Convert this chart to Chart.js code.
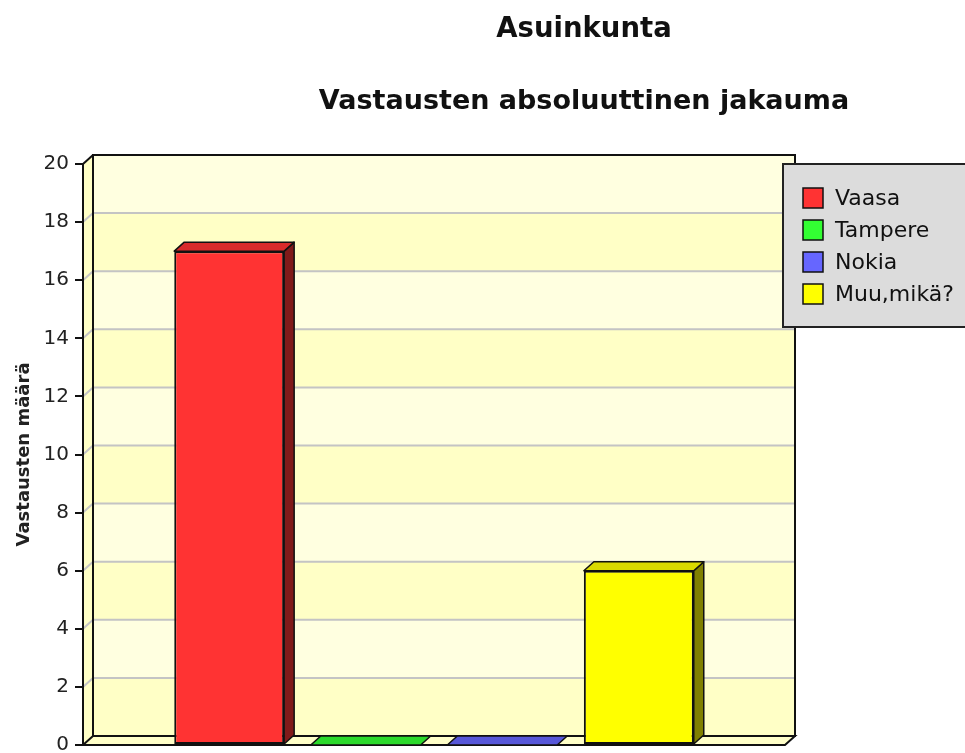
<!DOCTYPE html>
<html>
<head>
<meta charset="utf-8">
<title>Asuinkunta</title>
<script src="https://cdn.jsdelivr.net/npm/chart.js@4/dist/chart.umd.min.js"></script>
<style>
    html, body { margin: 0; padding: 0; background: #fff; overflow: hidden; }
    /* the source picture was cropped on the right and bottom, so the chart is larger than the window */
    #wrap { position: relative; width: 1168px; height: 790px; }
</style>
</head>
<body>
<div id="wrap"><canvas id="chart"></canvas></div>
<script>
// --- data ---
const categories = [''];
const seriesNames = ['Vaasa', 'Tampere', 'Nokia', 'Muu,mikä?'];
const seriesValues = [17, 0, 0, 6];
const seriesColors = ['#FF3333', '#33FF33', '#6666FF', '#FFFF00'];
const yTickValues = [0, 2, 4, 6, 8, 10, 12, 14, 16, 18, 20];

const DEPTH_X = 10;
const DEPTH_Y = 9;

/**
 * Darken a #RRGGBB colour by a factor
 */
function shade(hex, f) {
    const n = parseInt(hex.slice(1), 16);
    const r = Math.round(((n >> 16) & 255) * f);
    const g = Math.round(((n >> 8) & 255) * f);
    const b = Math.round((n & 255) * f);
    return `rgb(${r},${g},${b})`;
}

function poly(ctx, pts) {
    ctx.beginPath();
    ctx.moveTo(pts[0][0], pts[0][1]);
    for (let i = 1; i < pts.length; i++) {
        ctx.lineTo(pts[i][0], pts[i][1]);
    }
    ctx.closePath();
}

/**
 * Back wall, side wall, floor and the grid on the back wall
 */
const wallsPlugin = {
    id: 'walls',
    beforeDraw(chart) {
        const {ctx, chartArea: a, scales: {y}} = chart;
        const dx = DEPTH_X, dy = DEPTH_Y;
        ctx.save();

        // alternating bands on the back wall
        for (let i = 0; i < yTickValues.length - 1; i++) {
            const top = y.getPixelForValue(yTickValues[i + 1]) - dy;
            const bottom = y.getPixelForValue(yTickValues[i]) - dy;
            ctx.fillStyle = i % 2 === 0 ? '#FFFFC6' : '#FFFFE0';
            ctx.fillRect(a.left + dx, top, a.width, bottom - top);
        }

        // left side wall
        poly(ctx, [[a.left, a.top], [a.left + dx, a.top - dy], [a.left + dx, a.bottom - dy], [a.left, a.bottom]]);
        ctx.fillStyle = '#FFFFC6';
        ctx.fill();

        // grid lines
        ctx.strokeStyle = '#C4C4C4';
        ctx.lineWidth = 2;
        yTickValues.forEach(v => {
            if (v === yTickValues[0] || v === yTickValues[yTickValues.length - 1]) {
                return;
            }
            const py = y.getPixelForValue(v);
            ctx.beginPath();
            ctx.moveTo(a.left, py);
            ctx.lineTo(a.left + dx, py - dy);
            ctx.lineTo(a.right + dx, py - dy);
            ctx.stroke();
        });

        // floor
        poly(ctx, [[a.left, a.bottom], [a.left + dx, a.bottom - dy], [a.right + dx, a.bottom - dy], [a.right, a.bottom]]);
        ctx.fillStyle = '#FFFFC8';
        ctx.fill();
        ctx.strokeStyle = '#111';
        ctx.lineWidth = 2;
        ctx.stroke();

        // back wall outline and top corner
        ctx.strokeRect(a.left + dx, a.top - dy, a.width, a.height);
        ctx.beginPath();
        ctx.moveTo(a.left, a.top);
        ctx.lineTo(a.left + dx, a.top - dy);
        ctx.stroke();

        ctx.restore();
    }
};

/**
 * Top and side faces of the bars
 */
const bar3dPlugin = {
    id: 'bar3d',
    afterDatasetsDraw(chart) {
        const {ctx} = chart;
        const dx = DEPTH_X, dy = DEPTH_Y;
        ctx.save();
        ctx.strokeStyle = '#111';
        ctx.lineWidth = 1.5;
        ctx.lineJoin = 'round';
        chart.data.datasets.forEach((ds, i) => {
            const meta = chart.getDatasetMeta(i);
            meta.data.forEach(el => {
                const {x, y, base, width} = el.getProps(['x', 'y', 'base', 'width'], true);
                const x0 = x - width / 2;
                const x1 = x + width / 2;
                const color = seriesColors[i];

                // side
                if (base - y > 0.5) {
                    poly(ctx, [[x1, y], [x1 + dx, y - dy], [x1 + dx, base - dy], [x1, base]]);
                    ctx.fillStyle = shade(color, 0.5);
                    ctx.fill();
                    ctx.stroke();
                }

                // top
                poly(ctx, [[x0, y], [x0 + dx, y - dy], [x1 + dx, y - dy], [x1, y]]);
                ctx.fillStyle = shade(color, 0.85);
                ctx.fill();
                ctx.stroke();
            });
        });
        ctx.restore();
    }
};

/**
 * Grey legend box on the right of the plot
 */
const legendBoxPlugin = {
    id: 'legendBox',
    afterDraw(chart) {
        const {ctx, chartArea: a} = chart;
        const left = a.right - 2;
        const top = a.top;
        const height = 163;
        ctx.save();
        ctx.fillStyle = '#DCDCDC';
        ctx.fillRect(left, top, 400, height);
        ctx.strokeStyle = '#222';
        ctx.lineWidth = 2;
        ctx.strokeRect(left, top, 400, height);

        ctx.font = '22px "DejaVu Sans"';
        ctx.textBaseline = 'middle';
        ctx.textAlign = 'left';
        chart.data.datasets.forEach((ds, i) => {
            const cy = top + 34 + i * 32;
            ctx.fillStyle = ds.backgroundColor;
            ctx.fillRect(left + 20, cy - 10, 20, 20);
            ctx.lineWidth = 1.5;
            ctx.strokeStyle = '#111';
            ctx.strokeRect(left + 20, cy - 10, 20, 20);
            ctx.fillStyle = '#111';
            ctx.fillText(ds.label, left + 52, cy + 1);
        });
        ctx.restore();
    }
};

const datasets = seriesNames.map((name, i) => ({
    label: name,
    data: [seriesValues[i]],
    backgroundColor: seriesColors[i],
    borderColor: '#111',
    borderWidth: 2,
    borderSkipped: false,
    barPercentage: 0.805,
    categoryPercentage: 0.778
}));

new Chart(document.getElementById('chart'), {
    type: 'bar',
    data: {
        labels: categories,
        datasets: datasets
    },
    options: {
        responsive: true,
        maintainAspectRatio: false,
        devicePixelRatio: 1,
        animation: false,
        events: [],
        layout: {
            padding: { left: 0, right: 0, top: 0, bottom: 45 }
        },
        scales: {
            x: {
                display: false
            },
            y: {
                min: 0,
                max: 20,
                afterBuildTicks: scale => {
                    scale.ticks = yTickValues.map(v => ({ value: v }));
                },
                afterFit: scale => {
                    scale.width = 83;
                },
                ticks: {
                    color: '#222',
                    padding: 6,
                    font: { family: 'DejaVu Sans', size: 20 }
                },
                grid: {
                    drawOnChartArea: false,
                    drawTicks: true,
                    tickLength: 8,
                    color: '#111',
                    lineWidth: 2
                },
                border: {
                    display: true,
                    color: '#111',
                    width: 2
                },
                title: {
                    display: true,
                    text: 'Vastausten määrä',
                    color: '#222',
                    font: { family: 'DejaVu Sans', size: 18, weight: 'bold' },
                    padding: { top: 14, bottom: 0 }
                }
            },
            // empty axis that only reserves the room on the right for the legend
            spacer: {
                type: 'linear',
                position: 'right',
                display: true,
                ticks: { display: false },
                grid: { display: false },
                border: { display: false },
                afterFit: scale => {
                    scale.width = 383;
                }
            }
        },
        plugins: {
            legend: { display: false },
            tooltip: { enabled: false },
            title: {
                display: true,
                text: 'Asuinkunta',
                color: '#111',
                font: { family: 'DejaVu Sans', size: 27.5, weight: 'bold' },
                padding: { top: 13, bottom: 39.3 }
            },
            subtitle: {
                display: true,
                text: 'Vastausten absoluuttinen jakauma',
                color: '#111',
                font: { family: 'DejaVu Sans', size: 27, weight: 'bold' },
                padding: { top: 0, bottom: 46.3 }
            }
        }
    },
    plugins: [wallsPlugin, bar3dPlugin, legendBoxPlugin]
});
</script>
</body>
</html>
